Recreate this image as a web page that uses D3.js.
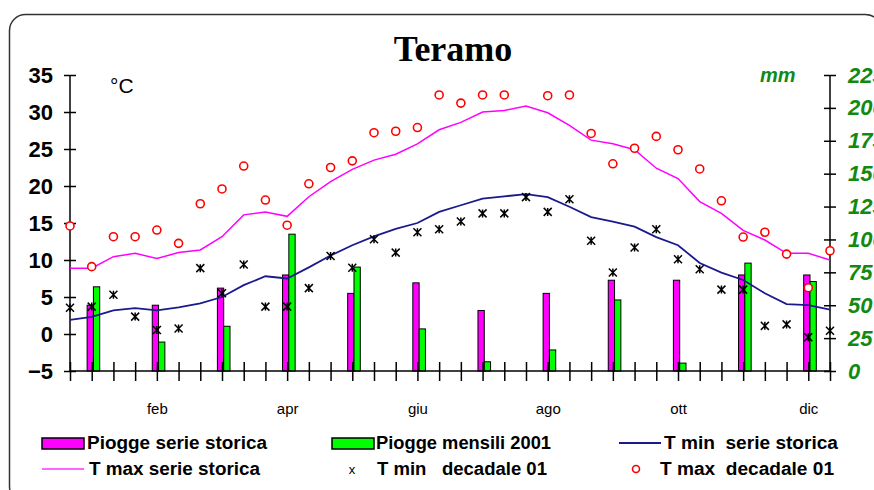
<!DOCTYPE html>
<html>
<head>
<meta charset="utf-8">
<script src="https://cdn.jsdelivr.net/npm/d3@7"></script>
<style>
  html, body { margin: 0; padding: 0; background: #fff; }
  svg { display: block; }
</style>
</head>
<body>
<svg id="chart" width="874" height="490"></svg>
<script>
// ---------- data ----------
const months = ["gen","feb","mar","apr","mag","giu","lug","ago","set","ott","nov","dic"];
const monthTickLabels = ["feb","apr","giu","ago","ott","dic"];
const monthTickIndex = [4, 10, 16, 22, 28, 34];
const decades = d3.range(36);
const leftTicks = [-5, 0, 5, 10, 15, 20, 25, 30, 35];
const rightTicks = [0, 25, 50, 75, 100, 125, 150, 175, 200, 225];

// monthly rain (mm)
const pioggeSerieStorica = [50, 50, 63, 73, 59, 67, 46, 59, 69, 69, 73, 73];
const pioggeMensili2001 = [64, 22, 34, 104, 79, 32, 7, 16, 54, 6, 82, 68];

// decadal temperatures (°C)
const tminSerieStorica = [1.9, 2.3, 3.2, 3.5, 3.2, 3.6, 4.15, 5.0, 6.6, 7.8, 7.5, 9.0,
  10.6, 12.0, 13.2, 14.2, 15.0, 16.5, 17.4, 18.3, 18.6, 18.9, 18.5, 17.2,
  15.8, 15.2, 14.5, 13.1, 12.0, 9.6, 8.3, 7.3, 5.5, 4.05, 3.9, 3.3];
const tmaxSerieStorica = [8.9, 8.9, 10.45, 10.9, 10.2, 11.0, 11.35, 13.15, 16.1, 16.5, 15.9, 18.55,
  20.6, 22.25, 23.5, 24.3, 25.7, 27.6, 28.6, 30.0, 30.2, 30.8, 29.9, 28.2,
  26.2, 25.7, 24.9, 22.4, 21.0, 17.9, 16.3, 14.0, 12.7, 10.9, 10.9, 10.0];
const tminDecadale01 = [3.55, 3.7, 5.3, 2.35, 0.55, 0.75, 8.9, 5.5, 9.4, 3.7, 3.7, 6.2,
  10.55, 8.95, 12.8, 11.0, 13.75, 14.15, 15.2, 16.3, 16.3, 18.5, 16.5, 18.2,
  12.6, 8.3, 11.7, 14.15, 10.1, 8.75, 6.0, 6.0, 1.1, 1.3, -0.45, 0.45];
const tmaxDecadale01 = [14.6, 9.1, 13.15, 13.15, 14.05, 12.25, 17.6, 19.6, 22.7, 18.1, 14.7, 20.3,
  22.5, 23.4, 27.2, 27.4, 27.9, 32.3, 31.2, 32.3, 32.3, null, 32.2, 32.3,
  27.1, 23.0, 25.1, 26.7, 24.9, 22.3, 18.0, 13.1, 13.75, 10.8, 6.25, 11.25];

// ---------- chart ----------
const svg = d3.select("#chart");
const plot = { left: 70, right: 830, top: 75, bottom: 371 };

const x = d3.scaleLinear().domain([0, 35]).range([plot.left, plot.right]);
const yT = d3.scaleLinear().domain([-5, 35]).range([plot.bottom, plot.top]);
const yR = d3.scaleLinear().domain([0, 225]).range([plot.bottom, plot.top]);
const monthX = i => x(i * 3 + 1);
const barBand = d3.scaleBand().domain(["storica", "2001"]).range([-4.6, 8]).padding(0);

// frame
svg.append("rect")
  .attr("x", 9.5).attr("y", 14.5).attr("width", 872).attr("height", 488)
  .attr("rx", 16).attr("ry", 16)
  .attr("fill", "none").attr("stroke", "#333").attr("stroke-width", 1.5);

// title
svg.append("text")
  .attr("x", 453).attr("y", 61)
  .attr("text-anchor", "middle")
  .attr("font-family", "'Liberation Serif', 'Times New Roman', serif")
  .attr("font-weight", "bold").attr("font-size", 36)
  .text("Teramo");

// bars
const bars = svg.append("g");
bars.selectAll("rect.storica").data(pioggeSerieStorica).join("rect")
  .attr("x", (d, i) => monthX(i) + barBand("storica"))
  .attr("width", barBand.bandwidth())
  .attr("y", d => yR(d)).attr("height", d => yR(0) - yR(d))
  .attr("fill", "#ff00ff").attr("stroke", "#000").attr("stroke-width", 1);
bars.selectAll("rect.m2001").data(pioggeMensili2001).join("rect")
  .attr("x", (d, i) => monthX(i) + barBand("2001"))
  .attr("width", barBand.bandwidth())
  .attr("y", d => yR(d)).attr("height", d => yR(0) - yR(d))
  .attr("fill", "#00ff00").attr("stroke", "#000").attr("stroke-width", 1);

// axes
const axL = svg.append("g").attr("transform", `translate(${plot.left},0)`)
  .call(d3.axisLeft(yT).tickValues(leftTicks).tickSize(6).tickPadding(11));
axL.selectAll(".tick line").attr("x1", -6).attr("x2", 6);
axL.selectAll("text").attr("font-family", "Arial, 'Liberation Sans', sans-serif")
  .attr("font-weight", "bold").attr("font-size", 22).attr("fill", "#000");

const axR = svg.append("g").attr("transform", `translate(${plot.right},0)`)
  .call(d3.axisRight(yR).tickValues(rightTicks).tickSize(6).tickPadding(12));
axR.selectAll(".tick line").attr("x1", -6).attr("x2", 6);
axR.selectAll("text").attr("font-family", "Arial, 'Liberation Sans', sans-serif")
  .attr("font-weight", "bold").attr("font-style", "italic").attr("font-size", 22).attr("fill", "#128a12");

const axB = svg.append("g").attr("transform", `translate(0,${plot.bottom})`)
  .call(d3.axisBottom(x).tickValues(decades).tickSize(10).tickPadding(22)
    .tickFormat(d => { const k = monthTickIndex.indexOf(d); return k >= 0 ? monthTickLabels[k] : ""; }));
axB.selectAll(".tick line").attr("y1", -9).attr("y2", 10);
axB.selectAll("text").attr("font-family", "Arial, 'Liberation Sans', sans-serif")
  .attr("font-size", 15).attr("fill", "#000");
[axL, axR, axB].forEach(a => {
  a.select(".domain").attr("stroke", "#000").attr("stroke-width", 1.5);
  a.selectAll(".tick line").attr("stroke", "#000").attr("stroke-width", 1.5);
});
axL.select(".domain").attr("d", `M0,${plot.top}V${plot.bottom}`);
axR.select(".domain").attr("d", `M0,${plot.top}V${plot.bottom}`);
axB.select(".domain").attr("d", `M${plot.left},0H${plot.right}`);

// unit labels
svg.append("text").attr("x", 110).attr("y", 93)
  .attr("font-family", "Arial, 'Liberation Sans', sans-serif").attr("font-size", 21)
  .text("°C");
svg.append("text").attr("x", 760).attr("y", 82)
  .attr("font-family", "Arial, 'Liberation Sans', sans-serif").attr("font-size", 20)
  .attr("font-weight", "bold").attr("font-style", "italic").attr("fill", "#128a12")
  .text("mm");

// lines
const line = d3.line().x((d, i) => x(i)).y(d => yT(d));
svg.append("path").datum(tmaxSerieStorica).attr("d", line)
  .attr("fill", "none").attr("stroke", "#ff00ff").attr("stroke-width", 1.5);
svg.append("path").datum(tminSerieStorica).attr("d", line)
  .attr("fill", "none").attr("stroke", "#1a1a8c").attr("stroke-width", 1.8);

// markers (Excel-style star: X with vertical bar)
function starPath(s) {
  return `M${-s},${-s}L${s},${s}M${s},${-s}L${-s},${s}M0,${-s}V${s}`;
}
svg.append("g").selectAll("path").data(tminDecadale01).join("path")
  .attr("transform", (d, i) => `translate(${x(i)},${yT(d)})`)
  .attr("d", starPath(4))
  .attr("fill", "none").attr("stroke", "#000").attr("stroke-width", 1.5);
svg.append("g").selectAll("circle")
  .data(tmaxDecadale01.map((v, i) => ({ v, i })).filter(d => d.v !== null)).join("circle")
  .attr("cx", d => x(d.i)).attr("cy", d => yT(d.v)).attr("r", 4)
  .attr("fill", "#fff").attr("stroke", "#ff0000").attr("stroke-width", 1.6);

// legend
const lg = svg.append("g")
  .attr("font-family", "Arial, 'Liberation Sans', sans-serif")
  .attr("font-weight", "bold").attr("font-size", 18);
const legendItems = [
  { label: "Piogge serie storica", type: "rect", color: "#ff00ff", x: 42, y: 443, tx: 87, tw: 180 },
  { label: "Piogge mensili 2001", type: "rect", color: "#00ff00", x: 332, y: 443, tx: 376, tw: 175 },
  { label: "T min  serie storica", type: "line", color: "#1a1a8c", x: 619, y: 443, tx: 664, tw: 174 },
  { label: "T max serie storica", type: "line", color: "#ff66ff", x: 42, y: 469, tx: 89, tw: 171 },
  { label: "T min   decadale 01", type: "x", color: "#000", x: 352, y: 469, tx: 377, tw: 170 },
  { label: "T max  decadale 01", type: "o", color: "#ff0000", x: 636, y: 469, tx: 660, tw: 174 }
];
legendItems.forEach(it => {
  if (it.type === "rect") {
    lg.append("rect").attr("x", it.x).attr("y", it.y - 5).attr("width", 42).attr("height", 11)
      .attr("fill", it.color).attr("stroke", "#000").attr("stroke-width", 1.5);
  } else if (it.type === "line") {
    lg.append("line").attr("x1", it.x).attr("x2", it.x + 42).attr("y1", it.y).attr("y2", it.y)
      .attr("stroke", it.color).attr("stroke-width", 2);
  } else if (it.type === "x") {
    lg.append("text").attr("x", it.x).attr("y", it.y + 5).attr("text-anchor", "middle")
      .attr("font-weight", "normal").attr("font-size", 13).text("x");
  } else {
    lg.append("circle").attr("cx", it.x).attr("cy", it.y).attr("r", 3.5)
      .attr("fill", "#fff").attr("stroke", it.color).attr("stroke-width", 1.6);
  }
  lg.append("text").attr("x", it.tx).attr("y", it.y + 6).attr("xml:space", "preserve")
    .style("white-space", "pre")
    .attr("textLength", it.tw).attr("lengthAdjust", "spacingAndGlyphs")
    .text(it.label);
});
</script>
</body>
</html>
